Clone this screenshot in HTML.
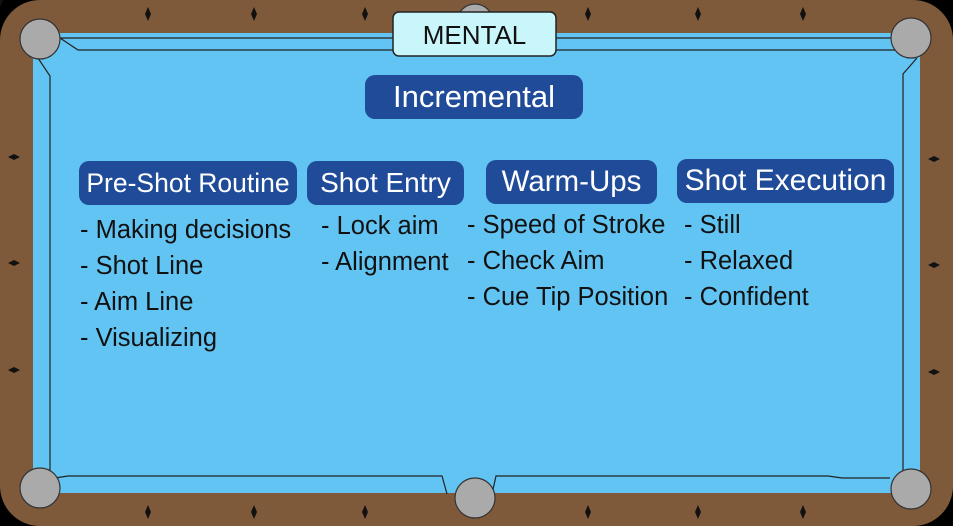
<!DOCTYPE html>
<html><head><style>
body{margin:0;width:953px;height:526px;overflow:hidden;background:#000;font-family:"Liberation Sans",sans-serif}
svg{position:absolute;left:0;top:0}
.h{position:absolute;background:#1f4b98;color:#fff;border-radius:10px;text-align:center;line-height:44px;height:44px;white-space:nowrap}
.l{position:absolute;color:#111;font-size:25.5px;line-height:36px;white-space:nowrap}
</style></head><body>
<svg width="953" height="526">
<rect x="0" y="0" width="953" height="526" rx="40" fill="#7e5a3a"/>
<rect x="33" y="33" width="887" height="460" fill="#62c4f2"/>
<polygon points="60,38 78,50 897,50 893,38" fill="none" stroke="#222" stroke-width="1.2"/>
<polyline points="38,58 50,76 50,470 38,482" fill="none" stroke="#222" stroke-width="1.2"/>
<polyline points="917,58 903,74 903,475 917,490" fill="none" stroke="#222" stroke-width="1.2"/>
<polyline points="55,478 68,476 442,476 447,494" fill="none" stroke="#222" stroke-width="1.2"/>
<polyline points="492,494 496,476 828,476 842,478 890,478" fill="none" stroke="#222" stroke-width="1.2"/>
<g fill="#aaa" stroke="#333" stroke-width="1.2">
<circle cx="40" cy="39" r="20"/><circle cx="911" cy="38" r="20"/>
<circle cx="40" cy="488" r="20"/><circle cx="911" cy="489" r="20"/>
<circle cx="475" cy="498" r="20"/><circle cx="475" cy="22" r="18"/>
</g>
<g fill="#111">
<g id="d"><polygon points="0,-7 3,0 0,7 -3,0"/></g>
<use href="#d" x="148" y="14"/><use href="#d" x="254" y="14"/><use href="#d" x="365" y="14"/>
<use href="#d" x="588" y="14"/><use href="#d" x="698" y="14"/><use href="#d" x="803" y="14"/>
<use href="#d" x="148" y="512"/><use href="#d" x="254" y="512"/><use href="#d" x="365" y="512"/>
<use href="#d" x="588" y="512"/><use href="#d" x="698" y="512"/><use href="#d" x="803" y="512"/>
<polygon points="8,157 14,154 20,157 14,160"/><polygon points="8,263 14,260 20,263 14,266"/><polygon points="8,370 14,367 20,370 14,373"/>
<polygon points="928,159 934,156 940,159 934,162"/><polygon points="928,265 934,262 940,265 934,268"/><polygon points="928,372 934,369 940,372 934,375"/>
</g>
<rect x="393" y="12" width="163" height="44" rx="6" fill="#c8f6fa" stroke="#222" stroke-width="1.5"/>
<text x="474.5" y="44" font-size="26" text-anchor="middle" fill="#111" font-family="Liberation Sans">MENTAL</text>
</svg>
<div class="h" style="left:365px;top:75px;width:218px;font-size:31px">Incremental</div>
<div class="h" style="left:79px;top:161px;width:218px;font-size:26.5px">Pre-Shot Routine</div>
<div class="h" style="left:307px;top:161px;width:157px;font-size:28px">Shot Entry</div>
<div class="h" style="left:486px;top:160px;width:171px;font-size:29.5px">Warm-Ups</div>
<div class="h" style="left:677px;top:159px;width:217px;font-size:30px">Shot Execution</div>
<div class="l" style="left:80px;top:212px">- Making decisions<br>- Shot Line<br>- Aim Line<br>- Visualizing</div>
<div class="l" style="left:321px;top:208px">- Lock aim<br>- Alignment</div>
<div class="l" style="left:467px;top:207px">- Speed of Stroke<br>- Check Aim<br>- Cue Tip Position</div>
<div class="l" style="left:684px;top:207px">- Still<br>- Relaxed<br>- Confident</div>
</body></html>
